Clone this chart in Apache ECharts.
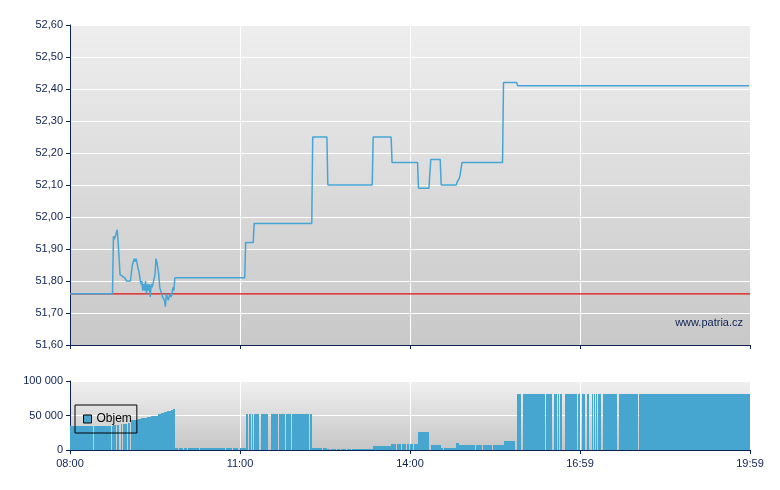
<!DOCTYPE html>
<html>
<head>
<meta charset="utf-8">
<script src="https://cdn.jsdelivr.net/npm/echarts@6.0.0/dist/echarts.min.js"></script>
<style>
  body { margin: 0; background: #fff; }
  #chart { width: 780px; height: 490px; }
</style>
</head>
<body>
<div id="chart"></div>
<script>
// time labels on the bottom axis (minutes from 08:00: 0, 180, 360, 540, 720)
const tickLabels = ['08:00', '11:00', '14:00', '16:59', '19:59'];

const prevClose = 51.76;

const priceTimes = [
  '08:00', '08:45', '08:46', '08:47', '08:48', '08:49', '08:50', '08:51', '08:53', '08:55',
  '08:58', '09:00', '09:04', '09:06', '09:08', '09:09', '09:10', '09:12', '09:13', '09:14',
  '09:15', '09:16', '09:17', '09:18', '09:19', '09:20', '09:21', '09:22', '09:23', '09:24',
  '09:25', '09:26', '09:27', '09:28', '09:30', '09:31', '09:32', '09:33', '09:34', '09:35',
  '09:37', '09:38', '09:40', '09:41', '09:42', '09:43', '09:44', '09:45', '09:46', '09:47',
  '09:48', '09:49', '09:50', '09:51', '11:05', '11:06', '11:14', '11:15', '12:16', '12:17',
  '12:32', '12:33', '13:20', '13:21', '13:40', '13:41', '14:08', '14:09', '14:20', '14:22',
  '14:32', '14:33', '14:49', '14:50', '14:52', '14:53', '14:54', '14:55', '15:38', '15:39',
  '15:53', '15:54', '19:59'
];
const priceValues = [
  51.76, 51.76, 51.94, 51.93, 51.94, 51.95, 51.96, 51.92, 51.82, 51.82,
  51.81, 51.80, 51.80, 51.85, 51.87, 51.86, 51.87, 51.84, 51.83, 51.81,
  51.79, 51.80, 51.77, 51.79, 51.77, 51.80, 51.76, 51.79, 51.77, 51.79,
  51.75, 51.79, 51.78, 51.78, 51.82, 51.87, 51.86, 51.84, 51.82, 51.78,
  51.76, 51.75, 51.74, 51.72, 51.76, 51.75, 51.74, 51.75, 51.76, 51.75,
  51.76, 51.78, 51.77, 51.81, 51.81, 51.92, 51.92, 51.98, 51.98, 52.25,
  52.25, 52.10, 52.10, 52.25, 52.25, 52.17, 52.17, 52.09, 52.09, 52.18,
  52.18, 52.10, 52.10, 52.11, 52.12, 52.13, 52.13, 52.17, 52.17, 52.42,
  52.42, 52.41, 52.41
];

// volume changes: each value holds until the next time
const volTimes = [
  '08:00', '08:24', '08:25', '08:43', '08:44', '08:45', '08:46', '08:49', '08:50', '08:52',
  '08:54', '08:55', '08:56', '09:00', '09:01', '09:03', '09:05', '09:08', '09:12', '09:15',
  '09:19', '09:22', '09:26', '09:29', '09:33', '09:36', '09:40', '09:43', '09:47', '09:49',
  '09:51', '09:54', '09:55', '10:00', '10:01', '10:04', '10:05', '10:17', '10:18', '10:33',
  '10:34', '10:44', '10:45', '10:52', '10:53', '10:58', '11:00', '11:06', '11:08', '11:10',
  '11:12', '11:13', '11:14', '11:15', '11:20', '11:22', '11:30', '11:33', '11:40', '11:41',
  '11:48', '11:49', '11:54', '11:55', '12:13', '12:14', '12:16', '12:27', '12:28', '12:32',
  '12:35', '12:36', '12:42', '12:43', '12:46', '12:47', '12:52', '12:53', '12:58', '12:59',
  '13:21', '13:40', '13:45', '13:46', '13:50', '13:51', '13:56', '13:57', '13:59', '14:00',
  '14:03', '14:04', '14:08', '14:20', '14:22', '14:33', '14:35', '14:36', '14:49', '14:52',
  '15:03', '15:04', '15:09', '15:10', '15:16', '15:17', '15:21', '15:22', '15:27', '15:28',
  '15:39', '15:51', '15:53', '15:58', '16:00', '16:23', '16:24', '16:30', '16:32', '16:36',
  '16:37', '16:38', '16:39', '16:41', '16:44', '16:57', '16:58', '17:00', '17:02', '17:05',
  '17:07', '17:10', '17:13', '17:14', '17:15', '17:16', '17:17', '17:18', '17:19', '17:22',
  '17:24', '17:39', '17:41', '18:01', '18:02', '19:59'
];
const volValues = [
  35000, 0, 35000, 0, 35000, 0, 36000, 0, 36000, 0,
  37000, 0, 38000, 0, 39000, 0, 43000, 44000, 45000, 46000,
  47000, 48000, 49000, 50000, 51500, 53000, 54500, 56000, 57500, 59000,
  3200, 0, 3200, 0, 3200, 0, 3200, 0, 3200, 0,
  3200, 0, 3200, 0, 3200, 0, 3200, 52000, 0, 52000,
  0, 52000, 0, 52000, 0, 52000, 0, 52000, 0, 52000,
  0, 52000, 0, 52000, 0, 52000, 3200, 0, 3200, 2000,
  0, 2000, 0, 2000, 0, 2000, 0, 2000, 0, 2000,
  5800, 8700, 0, 8700, 0, 8700, 0, 8700, 0, 8700,
  0, 8700, 26000, 0, 6800, 2900, 0, 2900, 10000, 7200,
  0, 7200, 0, 7200, 0, 7200, 0, 7200, 0, 7200,
  13000, 0, 81000, 0, 81000, 0, 81000, 0, 81000, 0,
  81000, 0, 81000, 0, 81000, 0, 81000, 0, 81000, 0,
  81000, 0, 81000, 0, 81000, 0, 81000, 0, 81000, 0,
  81000, 0, 81000, 0, 81000, 81000
];

function toMin(t) {
  const p = t.split(':');
  return (Number(p[0]) - 8) * 60 + Number(p[1]);
}

const navy = '#0d2254';
const volColor = '#46a6d0';
const font = "'Liberation Sans', Arial, sans-serif";

const priceData = priceTimes.map((t, i) => [toMin(t), priceValues[i]]);

// volume blocks [from, to, value]; a value holds until the next change
const volData = [];
for (let i = 0; i < volTimes.length - 1; i++) {
  const to = i === volTimes.length - 2 ? 720 : toMin(volTimes[i + 1]);
  if (volValues[i] > 0) volData.push([toMin(volTimes[i]), to, volValues[i]]);
}

function renderVolume(params, api) {
  const a = api.coord([api.value(0), api.value(2)]);
  const b = api.coord([api.value(1), 0]);
  // snap to whole pixels so touching blocks show no seam
  const x0 = Math.round(a[0]);
  const x1 = Math.max(Math.round(b[0]), x0 + 1);
  return {
    type: 'rect',
    shape: { x: x0, y: Math.round(a[1]), width: x1 - x0, height: b[1] - Math.round(a[1]) },
    style: { fill: volColor },
  };
}

function bg(top, bottom) {
  return {
    type: 'linear', x: 0, y: 0, x2: 0, y2: 1,
    colorStops: [{ offset: 0, color: top }, { offset: 1, color: bottom }],
  };
}

function timeAxis(grid, labels) {
  return {
    type: 'value',
    gridIndex: grid,
    min: 0,
    max: 720,
    interval: 180,
    axisLine: { show: true, onZero: false, lineStyle: { color: navy, width: 1 } },
    axisTick: { show: true, length: 4, lineStyle: { color: navy } },
    axisLabel: {
      show: labels,
      color: navy,
      fontSize: 11,
      fontFamily: font,
      margin: 8,
      formatter: (v) => tickLabels[Math.round(v / 180)],
    },
    splitLine: { show: true, lineStyle: { color: '#ffffff', width: 1 } },
  };
}

const option = {
  animation: false,
  grid: [
    { left: 70, right: 30, top: 25, height: 320, show: true, borderWidth: 0, backgroundColor: bg('#eeeeee', '#c8c8c8') },
    { left: 70, right: 30, top: 381, height: 69, show: true, borderWidth: 0, backgroundColor: bg('#f0f0f0', '#c6c6c6') },
  ],
  legend: {
    data: [{ name: 'Objem', icon: 'rect' }],
    left: 75,
    top: 405,
    padding: [8, 5, 8, 8],
    borderColor: '#000',
    borderWidth: 1,
    itemWidth: 8,
    itemHeight: 8,
    selectedMode: false,
    itemStyle: { color: volColor, borderColor: '#000', borderWidth: 1 },
    textStyle: { color: '#000', fontSize: 12, fontFamily: font },
  },
  xAxis: [timeAxis(0, false), timeAxis(1, true)],
  yAxis: [
    {
      type: 'value',
      gridIndex: 0,
      min: 51.6,
      max: 52.6,
      interval: 0.1,
      axisLine: { show: true, lineStyle: { color: navy } },
      axisTick: { show: true, length: 4, lineStyle: { color: navy } },
      axisLabel: {
        color: navy, fontSize: 11, fontFamily: font, margin: 7,
        formatter: (v) => v.toFixed(2).replace('.', ','),
      },
      splitLine: { lineStyle: { color: '#ffffff', width: 1 } },
    },
    {
      type: 'value',
      gridIndex: 1,
      min: 0,
      max: 100000,
      interval: 50000,
      axisLine: { show: true, lineStyle: { color: navy } },
      axisTick: { show: true, length: 4, lineStyle: { color: navy } },
      axisLabel: {
        color: navy, fontSize: 11, fontFamily: font, margin: 7,
        formatter: (v) => String(v).replace(/\B(?=(\d{3})+(?!\d))/g, ' '),
      },
      splitLine: { lineStyle: { color: '#ffffff', width: 1 } },
    },
  ],
  graphic: [
    {
      type: 'text',
      x: 743,
      y: 323,
      style: {
        text: 'www.patria.cz',
        fill: navy,
        font: '11px ' + font,
        align: 'right',
        verticalAlign: 'middle',
      },
    },
  ],
  series: [
    {
      name: 'prevClose',
      type: 'line',
      xAxisIndex: 0,
      yAxisIndex: 0,
      data: [[0, prevClose], [720, prevClose]],
      symbol: 'none',
      silent: true,
      lineStyle: { color: '#e60f0f', width: 1.2 },
    },
    {
      name: 'Cena',
      type: 'line',
      xAxisIndex: 0,
      yAxisIndex: 0,
      data: priceData,
      symbol: 'none',
      lineStyle: { color: '#45a6d6', width: 1.5 },
    },
    {
      name: 'Objem',
      type: 'custom',
      xAxisIndex: 1,
      yAxisIndex: 1,
      data: volData,
      encode: { x: [0, 1], y: 2 },
      itemStyle: { color: volColor },
      renderItem: renderVolume,
    },
  ],
};

const myChart = echarts.init(document.getElementById('chart'));
myChart.setOption(option);
</script>
</body>
</html>
